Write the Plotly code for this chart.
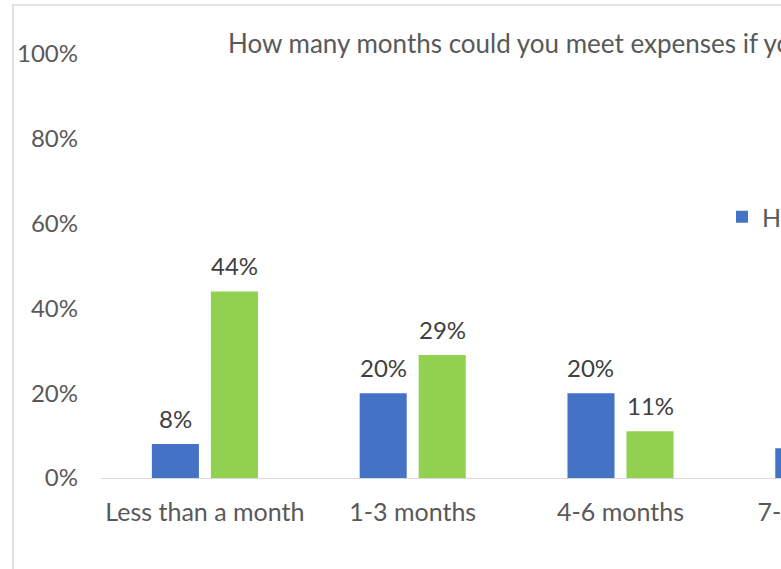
import plotly.graph_objects as go

# Survey data: months of expenses covered without income
categories = ["Less than a month", "1-3 months", "4-6 months", "7-12 months", "More than a year"]
homeowners = [0.08, 0.20, 0.20, 0.07, 0.45]
renters = [0.44, 0.29, 0.11, 0.06, 0.10]
series_names = ["Homeowners", "Renters"]
title_text = "How many months could you meet expenses if you lost your income?"

BLUE = "#4472C4"
GREEN = "#92D050"
TEXT = "#595959"
LABEL = "#404040"
FONT = "Lato, Carlito, Calibri, sans-serif"

W, H = 1240, 620
ML, MR, MT, MB = 101, 100, 54, 142
plot_w = W - ML - MR
plot_h = H - MT - MB
slot = plot_w / len(categories) * (1 - 0.432) / 2

fig = go.Figure()
for name, vals, col in [(series_names[0], homeowners, BLUE), (series_names[1], renters, GREEN)]:
    fig.add_trace(go.Bar(x=categories, y=vals, name=name, marker=dict(color=col, line=dict(width=0)),
                         hoverinfo="skip"))

# value labels above each bar
annotations = []
for vals, shift in [(homeowners, -slot / 2), (renters, slot / 2)]:
    for c, v in zip(categories, vals):
        annotations.append(dict(x=c, y=v, xref="x", yref="y", text=f"{round(v * 100)}%",
                                showarrow=False, xshift=shift, yshift=26, yanchor="middle",
                                font=dict(family=FONT, size=24, color=LABEL)))

fig.update_layout(
    width=W, height=H,
    margin=dict(l=ML, r=MR, t=MT, b=MB, pad=0),
    paper_bgcolor="white", plot_bgcolor="white",
    font=dict(family=FONT, size=24, color=TEXT),
    title=dict(text=title_text, xref="container", yref="container", x=228 / W, xanchor="left",
               y=1 - 44 / H, yanchor="middle", font=dict(family=FONT, size=26, color=TEXT)),
    barmode="group", bargap=0.432, bargroupgap=0.203,
    showlegend=True,
    legend=dict(orientation="h", x=(722 - ML) / plot_w, xanchor="left",
                y=(MT + plot_h - 217) / plot_h, yanchor="middle",
                font=dict(family=FONT, size=25, color=TEXT), bgcolor="rgba(0,0,0,0)"),
    annotations=annotations,
    shapes=[dict(type="rect", xref="paper", yref="paper",
                 x0=(13 - ML) / plot_w, x1=(W - 5 - ML) / plot_w,
                 y0=(MT + plot_h - (H - 5)) / plot_h, y1=(MT + plot_h - 5) / plot_h,
                 line=dict(color="#D9D9D9", width=1.5), layer="below")],
)
fig.update_xaxes(showline=True, linecolor="#D9D9D9", linewidth=1, showgrid=False, zeroline=False,
                 ticks="", ticklabelstandoff=12, tickfont=dict(family=FONT, size=25, color=TEXT))
fig.update_yaxes(range=[0, 1], dtick=0.2, tickformat=".0%", showgrid=False, zeroline=False,
                 showline=False, ticks="", ticklabelstandoff=22,
                 tickfont=dict(family=FONT, size=24, color=TEXT))

fig.write_html("out.html",
               post_script="document.body.style.margin='0';document.body.style.overflow='hidden';")
